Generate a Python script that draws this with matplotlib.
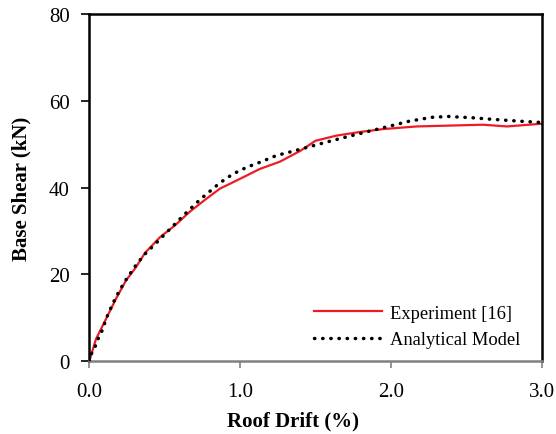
import matplotlib
matplotlib.use("Agg")
import matplotlib.pyplot as plt

# --- データ ---
exp_x = [0.0, 0.044, 0.11, 0.177, 0.243, 0.31, 0.37, 0.469, 0.568, 0.668,
         0.767, 0.867, 0.933, 1.044, 1.13, 1.265, 1.33, 1.40, 1.50, 1.64,
         1.79, 1.95, 2.17, 2.39, 2.61, 2.77, 2.99, 3.0]
exp_y = [0.0, 5.1, 9.7, 14.4, 18.6, 21.7, 25.0, 28.6, 31.3, 34.5,
         37.2, 39.8, 40.9, 42.8, 44.3, 46.0, 47.2, 48.5, 50.8, 52.0,
         52.8, 53.5, 54.1, 54.3, 54.5, 54.1, 54.7, 54.7]

ana_x = [0.0, 0.011, 0.04, 0.06, 0.084, 0.115, 0.16, 0.2, 0.24, 0.3, 0.363,
         0.436, 0.513, 0.59, 0.663, 0.739, 0.818, 0.862, 0.95, 1.044, 1.143,
         1.24, 1.34, 1.50, 1.65, 1.81, 1.96, 2.12, 2.27, 2.38, 2.54, 2.69,
         2.86, 2.96, 3.0]
ana_y = [0.0, 1.5, 3.5, 5.3, 7.0, 10.1, 13.6, 16.3, 18.6, 21.7, 24.5,
         27.0, 29.7, 32.4, 34.9, 37.4, 39.7, 41.0, 43.1, 44.7, 46.0,
         47.4, 48.3, 49.8, 51.2, 52.6, 53.9, 55.3, 56.2, 56.4, 56.1, 55.7,
         55.3, 55.1, 55.0]

x_ticks = [0.0, 1.0, 2.0, 3.0]
y_ticks = [0, 20, 40, 60, 80]

plt.rcParams['font.family'] = ['Liberation Serif', 'DejaVu Serif']

fig = plt.figure(figsize=(5.56, 4.35), dpi=100)
ax = fig.add_axes([0.1606, 0.1671, 0.8137, 0.7984])

ax.plot(exp_x, exp_y, color='#ed1c24', lw=1.6, label='Experiment [16]', zorder=2)
ax.plot(ana_x, ana_y, color='black', lw=2.5, linestyle=(0, (0.1, 2.25)),
        dash_capstyle='round', label='Analytical Model', zorder=3)

ax.set_xlim(0, 3.0)
ax.set_ylim(0, 80)
ax.set_xticks(x_ticks)
ax.set_xticklabels([f"{v:.1f}" for v in x_ticks])
ax.set_yticks(y_ticks)

for s in ['left', 'right', 'top']:
    ax.spines[s].set_linewidth(1.8)
    ax.spines[s].set_color('black')
ax.spines['bottom'].set_linewidth(1.8)
ax.spines['bottom'].set_color('#808080')

ax.tick_params(axis='y', direction='out', length=6, width=1.2, colors='black',
               labelsize=15, pad=8)
ax.tick_params(axis='x', direction='out', length=5, width=1.2, color='#808080',
               labelcolor='black', labelsize=15, pad=10)

ax.set_xlabel('Roof Drift (%)', fontsize=15, fontweight='bold')
ax.set_ylabel('Base Shear (kN)', fontsize=15, fontweight='bold')
ax.xaxis.set_label_coords(0.45, -0.142)
ax.yaxis.set_label_coords(-0.128, 0.5)

ax.legend(loc='lower right', frameon=False, fontsize=13.3, handlelength=3.7,
          handletextpad=0.45, labelspacing=0.5, bbox_to_anchor=(0.99, -0.01))

fig.savefig('out.png', dpi=100)
